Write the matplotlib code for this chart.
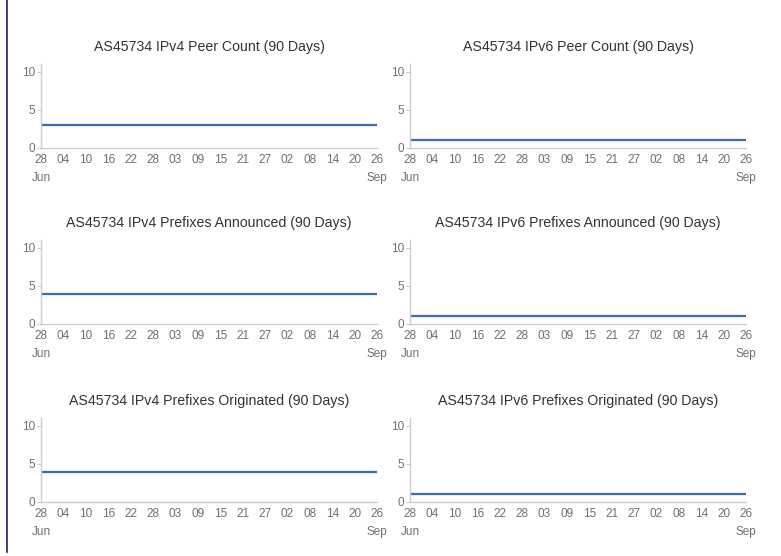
import numpy as np
import pandas as pd
import matplotlib
matplotlib.use("Agg")
import matplotlib.pyplot as plt
import matplotlib.dates as mdates
from matplotlib.lines import Line2D

plt.rcParams['font.family'] = ['Liberation Sans', 'DejaVu Sans']

# 90 day window, values are flat across it
dates = pd.to_datetime(["2023-06-28", "2023-09-26"])
titles = [
    "AS45734 IPv4 Peer Count (90 Days)",
    "AS45734 IPv6 Peer Count (90 Days)",
    "AS45734 IPv4 Prefixes Announced (90 Days)",
    "AS45734 IPv6 Prefixes Announced (90 Days)",
    "AS45734 IPv4 Prefixes Originated (90 Days)",
    "AS45734 IPv6 Prefixes Originated (90 Days)",
]
v4_peers = [3, 3]
v6_peers = [1, 1]
v4_announced = [4, 4]
v6_announced = [1, 1]
v4_originated = [4, 4]
v6_originated = [1, 1]
series = [v4_peers, v6_peers, v4_announced, v6_announced, v4_originated, v6_originated]

W, H = 781, 556
fig = plt.figure(figsize=(W / 100, H / 100), dpi=100)

lefts = [41, 410]
width = 336
bottoms = [148, 324, 502]
height = 84

line_col = '#3d6aaa'
grey = '#707070'
axis_col = '#cccccc'

ticks = pd.date_range(dates[0], dates[-1], freq='6D')

for i, (title, vals) in enumerate(zip(titles, series)):
    row, col = divmod(i, 2)
    ax = fig.add_axes([lefts[col] / W, (H - bottoms[row]) / H, width / W, height / H])
    ax.plot(dates, vals, color=line_col, lw=1.6)
    ax.set_xlim(dates[0], dates[-1])
    ax.set_ylim(0, 11.05)
    ax.set_yticks([0, 5, 10])
    ax.set_xticks(ticks)
    ax.xaxis.set_major_formatter(mdates.DateFormatter('%d'))
    for s in ['top', 'right']:
        ax.spines[s].set_visible(False)
    for s in ['left', 'bottom']:
        ax.spines[s].set_color(axis_col)
        ax.spines[s].set_linewidth(1.0)
    ax.tick_params(axis='y', length=3, width=0.8, color=axis_col, labelcolor=grey,
                   labelsize=8.5, pad=1)
    ax.tick_params(axis='x', length=0, labelcolor=grey, labelsize=8.5, pad=4)
    ax.set_title(title, fontsize=10.2, color='#333333', pad=9.5)
    # month labels under first and last tick
    for d in [dates[0], dates[-1]]:
        ax.annotate(d.strftime('%b'), xy=(d, 0), xycoords=('data', 'axes fraction'),
                    xytext=(0, -17), textcoords='offset points', ha='center', va='top',
                    fontsize=8.5, color=grey)

# dark rule down the left edge
fig.add_artist(Line2D([7 / W, 7 / W], [1, 1 - 552 / H], transform=fig.transFigure,
                      color='#1a1a80', lw=1.2))

fig.savefig('out.png', dpi=100)
